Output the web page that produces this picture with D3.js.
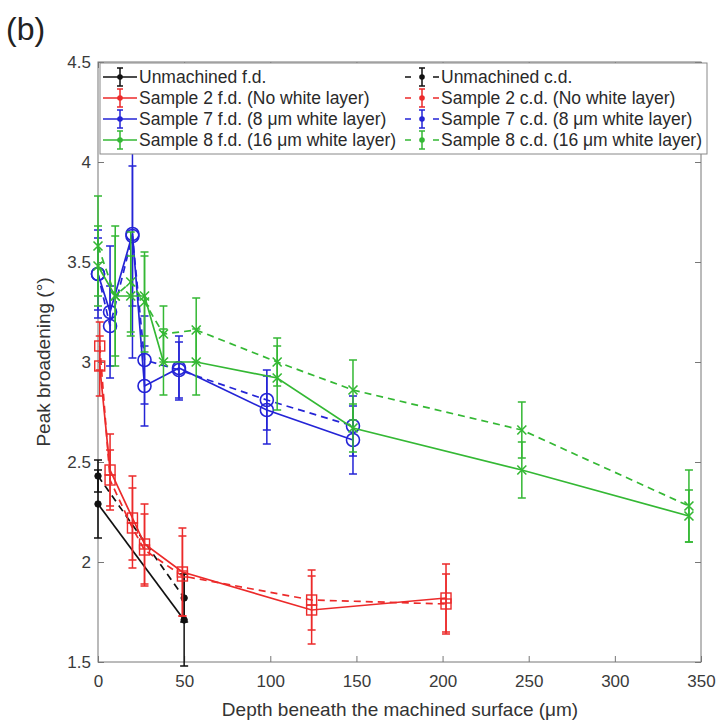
<!DOCTYPE html>
<html>
<head>
<meta charset="utf-8">
<script src="https://cdn.jsdelivr.net/npm/d3@7"></script>
<style>
  body { margin: 0; background: #fff; }
  text { font-family: "Liberation Sans", Arial, sans-serif; }
</style>
</head>
<body>
<svg id="chart" width="720" height="722"></svg>
<script>
// depths (um) and peak broadening (deg)
const unmachinedDepth = [0, 50];
const unmachinedFd = [2.29, 1.71];
const unmachinedFdErr = [0.17, 0.23];
const unmachinedCd = [2.43, 1.82];
const unmachinedCdErr = [0.08, 0.12];

const s2Depth = [1, 7, 20, 27, 49, 124, 202];
const s2Fd = [2.98, 2.46, 2.22, 2.09, 1.95, 1.76, 1.82];
const s2FdErr = [0.15, 0.18, 0.21, 0.2, 0.22, 0.17, 0.17];
const s2Cd = [3.08, 2.41, 2.17, 2.06, 1.93, 1.81, 1.79];
const s2CdErr = [0.12, 0.15, 0.2, 0.18, 0.2, 0.15, 0.15];

const s7Depth = [0, 7, 20, 27, 47, 98, 148];
const s7Fd = [3.44, 3.25, 3.64, 2.88, 2.97, 2.76, 2.61];
const s7FdErr = [0.22, 0.33, 0.62, 0.2, 0.16, 0.17, 0.17];
const s7Cd = [3.44, 3.18, 3.63, 3.01, 2.96, 2.81, 2.68];
const s7CdErr = [0.18, 0.2, 0.35, 0.22, 0.14, 0.15, 0.15];

const s8Depth = [0, 10, 19, 27, 38, 57, 104, 148, 246, 343];
const s8Fd = [3.48, 3.33, 3.33, 3.33, 3.0, 3.0, 2.92, 2.67, 2.46, 2.23];
const s8FdErr = [0.2, 0.3, 0.2, 0.2, 0.165, 0.165, 0.16, 0.12, 0.14, 0.13];
const s8Cd = [3.58, 3.33, 3.4, 3.3, 3.14, 3.16, 3.0, 2.86, 2.66, 2.28];
const s8CdErr = [0.25, 0.35, 0.25, 0.25, 0.14, 0.16, 0.12, 0.15, 0.14, 0.18];

const xTicks = [0, 50, 100, 150, 200, 250, 300, 350];
const yTicks = [1.5, 2, 2.5, 3, 3.5, 4, 4.5];

const legendFd = ["Unmachined f.d.", "Sample 2 f.d. (No white layer)", "Sample 7 f.d. (8 \u03BCm white layer)", "Sample 8 f.d. (16 \u03BCm white layer)"];
const legendCd = ["Unmachined c.d.", "Sample 2 c.d. (No white layer)", "Sample 7 c.d. (8 \u03BCm white layer)", "Sample 8 c.d. (16 \u03BCm white layer)"];

const BLACK = "#111", RED = "#ec2a2a", BLUE = "#2424d6", GREEN = "#34b834";

const svg = d3.select("#chart");
const x = d3.scaleLinear().domain([0, 350]).range([98, 701]);
const y = d3.scaleLinear().domain([1.5, 4.5]).range([662, 62]);

// axes box with inward ticks on all sides
const axisColor = "#777";
const styleAxis = g => {
  g.select(".domain").remove();
  g.selectAll("line").attr("stroke", axisColor);
  g.selectAll("text").attr("fill", "#3a3a3a").style("font-size", "17px");
};
svg.append("g").attr("transform", "translate(0,662)")
  .call(d3.axisBottom(x).tickValues(xTicks).tickSizeInner(-6).tickSizeOuter(0).tickPadding(13))
  .call(styleAxis);
svg.append("g").attr("transform", "translate(0,62)")
  .call(d3.axisTop(x).tickValues(xTicks).tickSizeInner(-6).tickSizeOuter(0).tickFormat(""))
  .call(styleAxis);
svg.append("g").attr("transform", "translate(98,0)")
  .call(d3.axisLeft(y).tickValues(yTicks).tickSizeInner(-6).tickSizeOuter(0).tickPadding(7).tickFormat(d3.format("")))
  .call(styleAxis);
svg.append("g").attr("transform", "translate(701,0)")
  .call(d3.axisRight(y).tickValues(yTicks).tickSizeInner(-6).tickSizeOuter(0).tickFormat(""))
  .call(styleAxis);
svg.append("rect")
  .attr("x", 98).attr("y", 62).attr("width", 603).attr("height", 600)
  .attr("fill", "none").attr("stroke", axisColor).attr("stroke-width", 1);

const plot = svg.append("g");

function drawMarker(g, kind, cx, cy, color) {
  if (kind === "dot") {
    g.append("circle").attr("cx", cx).attr("cy", cy).attr("r", 3.2)
      .attr("fill", color).attr("stroke", color);
  } else if (kind === "circle") {
    g.append("circle").attr("cx", cx).attr("cy", cy).attr("r", 6.5)
      .attr("fill", "none").attr("stroke", color).attr("stroke-width", 1.6);
  } else if (kind === "square") {
    g.append("rect").attr("x", cx - 5).attr("y", cy - 5).attr("width", 10).attr("height", 10)
      .attr("fill", "none").attr("stroke", color).attr("stroke-width", 1.4);
  } else if (kind === "cross") {
    const s = 4.5;
    g.append("path").attr("d", `M${cx - s},${cy - s}L${cx + s},${cy + s}M${cx - s},${cy + s}L${cx + s},${cy - s}`)
      .attr("stroke", color).attr("stroke-width", 1.6).attr("fill", "none");
  }
}

function drawSeries(depth, vals, errs, color, dashed, marker) {
  const g = plot.append("g");
  const pts = depth.map((d, i) => [d, vals[i], errs[i]]);
  g.append("path")
    .attr("d", d3.line().x(p => x(p[0])).y(p => y(p[1]))(pts))
    .attr("fill", "none").attr("stroke", color).attr("stroke-width", 1.7)
    .attr("stroke-dasharray", dashed ? "7,5" : null);
  pts.forEach(p => {
    const px = x(p[0]);
    const top = y(p[1] + p[2]), bot = y(p[1] - p[2]);
    g.append("path")
      .attr("d", `M${px},${top}L${px},${bot}M${px - 4},${top}L${px + 4},${top}M${px - 4},${bot}L${px + 4},${bot}`)
      .attr("stroke", color).attr("stroke-width", 1.5).attr("fill", "none");
    drawMarker(g, marker, px, y(p[1]), color);
  });
}

drawSeries(unmachinedDepth, unmachinedFd, unmachinedFdErr, BLACK, false, "dot");
drawSeries(unmachinedDepth, unmachinedCd, unmachinedCdErr, BLACK, true, "dot");
drawSeries(s2Depth, s2Fd, s2FdErr, RED, false, "square");
drawSeries(s2Depth, s2Cd, s2CdErr, RED, true, "square");
drawSeries(s7Depth, s7Fd, s7FdErr, BLUE, false, "circle");
drawSeries(s7Depth, s7Cd, s7CdErr, BLUE, true, "circle");
drawSeries(s8Depth, s8Fd, s8FdErr, GREEN, false, "cross");
drawSeries(s8Depth, s8Cd, s8CdErr, GREEN, true, "cross");

// legend
const colors = [BLACK, RED, BLUE, GREEN];
const leg = svg.append("g");
leg.append("rect").attr("x", 100).attr("y", 63).attr("width", 607).attr("height", 91)
  .attr("fill", "#fff").attr("stroke", "#888").attr("stroke-width", 1);

function legendEntry(cx, cy, color, dashed, label) {
  const g = leg.append("g");
  if (dashed) {
    g.append("path").attr("d", `M${cx - 17},${cy}L${cx - 11},${cy}M${cx + 11},${cy}L${cx + 17},${cy}`)
      .attr("stroke", color).attr("stroke-width", 1.7);
  } else {
    g.append("line").attr("x1", cx - 17).attr("x2", cx + 17).attr("y1", cy).attr("y2", cy)
      .attr("stroke", color).attr("stroke-width", 1.7);
  }
  g.append("path").attr("d", `M${cx},${cy - 9}L${cx},${cy + 9}M${cx - 3},${cy - 9}L${cx + 3},${cy - 9}M${cx - 3},${cy + 9}L${cx + 3},${cy + 9}`)
    .attr("stroke", color).attr("stroke-width", 1.5);
  g.append("circle").attr("cx", cx).attr("cy", cy).attr("r", 2.8).attr("fill", color);
  g.append("text").attr("x", cx + 19).attr("y", cy + 6).text(label)
    .attr("fill", "#2a2a2a").style("font-size", "17.5px");
}
legendFd.forEach((t, i) => legendEntry(120, 77 + i * 21, colors[i], false, t));
legendCd.forEach((t, i) => legendEntry(422, 77 + i * 21, colors[i], true, t));

// titles
svg.append("text").attr("x", 400).attr("y", 716).attr("text-anchor", "middle")
  .attr("fill", "#333").style("font-size", "19px")
  .text("Depth beneath the machined surface (\u03BCm)");
svg.append("text").attr("transform", "translate(50,362) rotate(-90)").attr("text-anchor", "middle")
  .attr("fill", "#333").style("font-size", "19px")
  .text("Peak broadening (\u00B0)");
svg.append("text").attr("x", 6).attr("y", 40).attr("fill", "#222").style("font-size", "32px").text("(b)");
</script>
</body>
</html>
